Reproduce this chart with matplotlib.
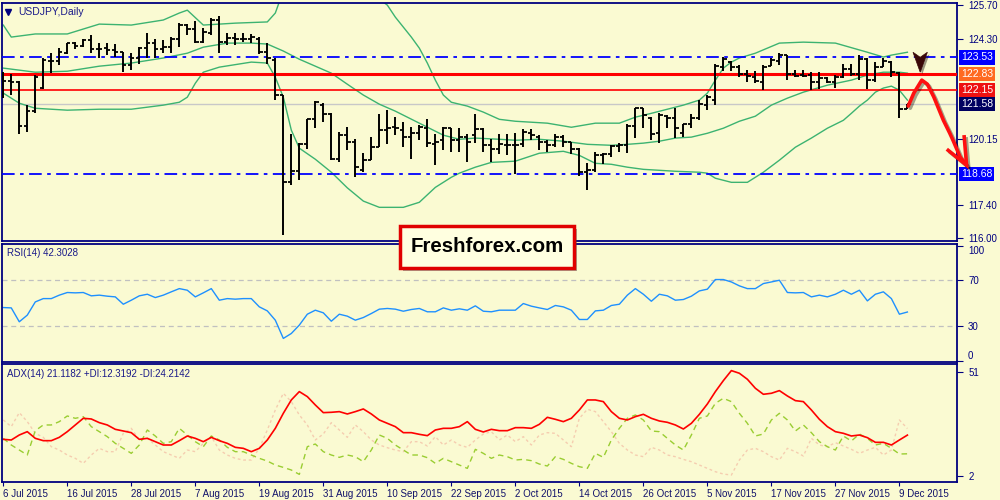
import matplotlib.pyplot as plt
import matplotlib.transforms as mtransforms
import matplotlib.patheffects as pe
from matplotlib.patches import Rectangle, Polygon

bg = '#FAFAD2'
navy = '#000080'
plt.rcParams['font.family'] = ['Liberation Sans', 'DejaVu Sans']

# USDJPY daily bars, 6 Jul 2015 .. 10 Dec 2015 (one per business day)
opens = [122.58, 122.54, 122.51, 120.66, 121.29, 122.27, 123.38, 123.38, 123.72, 124.11,
         124.01, 124.24, 123.86, 123.90, 123.83, 123.76, 123.20, 123.52, 123.90, 124.13,
         123.86, 123.97, 124.31, 124.87, 124.69, 124.18, 124.55, 125.08, 124.18, 124.34,
         124.27, 124.31, 124.31, 123.76, 123.41, 121.98, 118.35, 118.80, 119.91, 120.98,
         121.54, 121.19, 119.32, 120.29, 120.01, 118.83, 119.25, 119.80, 120.50, 120.64,
         120.50, 120.22, 120.40, 120.57, 119.94, 120.08, 120.57, 120.11, 120.22, 120.29,
         120.53, 119.87, 119.71, 119.87, 119.90, 119.94, 120.39, 120.22, 120.01, 119.87,
         120.22, 120.01, 119.73, 118.76, 118.83, 119.46, 119.52, 119.85, 119.90, 120.66,
         121.44, 121.02, 120.39, 121.08, 121.02, 120.39, 120.75, 121.02, 121.54, 121.77,
         123.13, 123.34, 123.13, 122.83, 122.72, 122.51, 123.16, 123.38, 123.62, 122.83,
         122.79, 122.79, 122.51, 122.65, 122.51, 122.72, 123.06, 122.83, 123.44, 122.58,
         123.13, 123.34, 122.88, 121.40]
highs = [122.93, 122.83, 122.54, 121.54, 122.79, 123.48, 123.72, 123.90, 124.13, 124.18,
         124.31, 124.45, 124.11, 124.13, 124.08, 123.76, 123.72, 123.97, 124.52, 124.31,
         124.24, 124.36, 124.94, 124.91, 125.05, 124.73, 125.15, 125.24, 124.55, 124.52,
         124.52, 124.49, 124.38, 124.11, 123.48, 121.98, 120.36, 119.97, 120.98, 121.72,
         121.61, 121.22, 120.43, 120.64, 120.15, 119.55, 120.22, 121.19, 121.33, 121.05,
         120.84, 120.64, 120.71, 120.98, 120.36, 120.64, 120.57, 120.57, 120.36, 121.19,
         120.57, 120.15, 120.36, 120.32, 120.39, 120.53, 120.53, 120.29, 120.08, 120.36,
         120.29, 120.01, 119.76, 119.14, 119.59, 119.55, 119.87, 119.97, 120.75, 121.44,
         121.44, 121.05, 121.22, 121.12, 121.44, 120.77, 121.19, 121.75, 121.95, 123.25,
         123.55, 123.38, 123.20, 122.99, 122.96, 123.20, 123.48, 123.72, 123.62, 122.99,
         122.99, 122.93, 122.93, 122.69, 122.79, 123.27, 123.27, 123.62, 123.52, 123.34,
         123.48, 123.38, 122.93, 121.60]
lows = [121.82, 121.98, 120.36, 120.43, 121.22, 122.23, 122.86, 123.20, 123.66, 123.86,
        123.97, 123.69, 123.48, 123.62, 123.55, 122.93, 123.02, 123.27, 123.48, 123.48,
        123.72, 123.72, 123.97, 124.45, 124.11, 124.11, 124.45, 123.72, 124.04, 124.04,
        124.18, 124.11, 123.66, 123.27, 121.77, 116.12, 118.21, 118.41, 119.73, 120.61,
        120.84, 119.25, 119.18, 119.66, 118.55, 118.76, 119.25, 119.80, 119.94, 120.29,
        119.80, 119.32, 120.08, 119.80, 119.04, 119.66, 119.59, 119.59, 119.18, 119.97,
        119.59, 119.18, 119.50, 119.46, 118.66, 119.80, 120.08, 119.66, 119.59, 119.80,
        119.80, 119.52, 118.58, 118.00, 118.76, 119.08, 119.39, 119.59, 119.55, 120.19,
        120.57, 120.11, 119.97, 120.57, 120.19, 120.22, 120.57, 120.94, 121.33, 121.54,
        122.97, 122.97, 122.69, 122.51, 122.44, 122.19, 123.16, 123.20, 122.58, 122.69,
        122.72, 122.19, 122.23, 122.44, 122.27, 122.65, 122.75, 122.58, 122.23, 122.51,
        123.13, 122.69, 121.02, 121.38]
closes = [122.54, 122.51, 120.66, 121.29, 122.69, 123.41, 123.37, 123.76, 124.11, 123.99,
          124.24, 123.86, 123.88, 123.83, 123.73, 123.20, 123.52, 123.90, 124.13, 123.86,
          123.97, 124.31, 124.87, 124.69, 124.18, 124.59, 125.08, 124.18, 124.34, 124.27,
          124.31, 124.36, 123.76, 123.48, 121.98, 118.35, 118.80, 119.91, 120.98, 121.68,
          121.19, 119.32, 120.29, 120.01, 118.97, 119.25, 119.80, 120.50, 120.57, 120.57,
          120.22, 120.40, 120.64, 119.97, 120.01, 120.57, 120.11, 120.22, 120.01, 120.53,
          119.87, 119.71, 119.91, 119.90, 119.87, 120.43, 120.29, 120.01, 119.87, 120.22,
          120.01, 119.73, 118.76, 118.83, 119.46, 119.52, 119.85, 119.90, 120.66, 121.44,
          121.12, 120.36, 121.12, 121.02, 120.61, 120.75, 121.02, 121.57, 121.86, 123.16,
          123.44, 123.13, 122.83, 122.74, 122.55, 123.13, 123.41, 123.62, 122.83, 122.74,
          122.77, 122.51, 122.65, 122.51, 122.69, 123.06, 122.83, 123.44, 122.58, 123.13,
          123.38, 122.93, 121.40, 121.58]

# Bollinger bands (20, 2) at selected bars
upper_idx = [0, 1, 4, 8, 12, 16, 20, 22, 23, 25, 29, 33, 34, 35, 37, 40, 43, 45, 47, 48,
             49, 51, 52, 53, 54, 55, 56, 58, 60, 62, 64, 68, 71, 74, 77, 79, 81, 83, 85, 87,
             88, 89, 90, 91, 92, 94, 97, 100, 104, 108, 110, 111, 113]
upper = [124.87, 124.37, 124.50, 124.50, 124.91, 124.87, 125.08, 125.37, 125.49, 124.87,
         124.95, 125.00, 125.37, 126.3, 126.9, 127.2, 127.0, 126.6, 125.95, 125.70,
         125.20, 124.37, 123.91, 123.29, 122.58, 121.96, 121.66, 121.50, 121.25, 120.95,
         120.87, 120.79, 120.62, 120.79, 120.79, 121.04, 121.20, 121.37, 121.54, 121.75,
         122.04, 122.58, 123.08, 123.33, 123.50, 123.70, 124.12, 124.16, 124.12, 123.74,
         123.54, 123.62, 123.74]
mid_idx = [0, 4, 8, 12, 16, 20, 23, 25, 28, 31, 33, 35, 37, 39, 41, 43, 45, 47, 49, 52,
           55, 57, 59, 62, 64, 67, 70, 73, 76, 78, 80, 82, 84, 86, 88, 90, 92, 94, 96, 98,
           100, 103, 106, 108, 110, 112, 113]
mid = [123.08, 122.91, 122.95, 123.16, 123.29, 123.50, 123.70, 123.95, 124.12, 124.12,
       124.08, 123.79, 123.45, 123.16, 122.87, 122.41, 121.96, 121.58, 121.29, 120.79,
       120.29, 120.12, 120.17, 120.12, 120.08, 120.12, 120.04, 119.91, 119.87, 119.91,
       119.96, 120.04, 120.17, 120.21, 120.37, 120.58, 120.87, 121.08, 121.54, 121.83,
       122.08, 122.37, 122.58, 122.79, 122.91, 122.91, 122.87]
lower_idx = [0, 2, 4, 8, 12, 16, 20, 22, 23, 24, 25, 27, 31, 33, 34, 35, 36, 37, 39, 41,
             43, 45, 47, 50, 52, 54, 56, 57, 59, 61, 64, 67, 70, 72, 74, 76, 78, 80, 84, 87,
             88, 89, 91, 93, 95, 97, 99, 101, 103, 105, 106, 107, 108, 109, 110, 111, 112, 113]
lower = [122.04, 121.62, 121.41, 121.33, 121.37, 121.37, 121.54, 121.66, 121.87, 122.45,
         122.91, 123.12, 123.33, 123.29, 122.70, 121.87, 120.50, 119.75, 119.29, 118.75,
         118.10, 117.55, 117.29, 117.29, 117.50, 118.12, 118.54, 118.71, 118.96, 119.16,
         119.21, 119.54, 119.62, 119.45, 119.12, 119.08, 118.96, 118.87, 118.79, 118.75,
         118.71, 118.50, 118.33, 118.33, 118.75, 119.25, 119.79, 120.17, 120.58, 120.91,
         121.20, 121.50, 121.75, 122.08, 122.25, 122.33, 122.16, 121.75]

rsi = [46.2, 45.9, 33.8, 39.6, 51.1, 54.0, 54.0, 57.0, 59.3, 59.0, 59.3, 56.4, 57.0, 56.1, 55.5,
       49.1, 52.6, 56.4, 57.8, 54.9, 57.0, 59.9, 62.7, 61.3, 55.5, 59.0, 62.7, 52.6, 54.0, 53.5,
       54.0, 54.0, 46.8, 43.3, 35.2, 19.3, 23.6, 30.9, 40.4, 43.9, 41.6, 34.3, 40.4, 38.7, 35.2,
       37.5, 41.0, 44.8, 45.4, 44.8, 43.0, 44.5, 45.4, 42.5, 42.5, 45.9, 43.9, 45.1, 43.9, 47.7,
       43.0, 42.5, 43.9, 43.9, 43.9, 49.7, 47.4, 45.9, 44.5, 48.0, 46.8, 43.9, 35.8, 35.8, 43.3,
       43.9, 48.0, 49.1, 57.0, 62.7, 57.8, 51.7, 57.8, 56.4, 52.6, 53.2, 56.1, 60.7, 62.2, 70.6,
       70.6, 68.5, 65.1, 62.7, 62.7, 67.1, 68.5, 70.0, 59.3, 59.0, 59.3, 55.5, 57.0, 55.5, 57.8,
       61.3, 57.8, 61.3, 52.0, 57.8, 59.9, 54.0, 40.4, 42.3]

adx = [19.13, 18.82, 21.17, 22.74, 19.60, 18.50, 18.50, 20.07, 22.74, 25.89,
       29.03, 28.71, 26.99, 25.89, 23.84, 23.06, 22.27, 19.13, 19.60, 18.03,
       16.46, 16.46, 18.50, 20.70, 19.60, 18.03, 20.07, 18.50, 17.24, 15.36,
       14.89, 13.32, 14.89, 18.82, 24.31, 31.38, 37.67, 41.60, 39.24, 35.31,
       31.70, 31.86, 32.17, 31.07, 32.17, 33.43, 31.07, 28.24, 26.67, 25.10,
       22.27, 22.27, 21.49, 20.86, 23.53, 24.31, 24.31, 25.10, 27.46, 23.84,
       22.59, 23.84, 23.21,
       23.21, 24.63, 24.63, 24.31, 26.20, 29.50, 28.56, 27.46, 29.03, 32.95,
       37.67, 37.67, 36.88, 32.17, 29.03, 28.24, 29.81, 30.91, 29.03, 27.77,
       27.14, 25.89, 24.00, 26.67, 30.91, 35.78, 41.60, 46.78, 51.49, 50.24,
       47.41, 43.17, 40.34, 40.81, 42.07, 39.55, 37.35, 36.88, 32.95, 28.56,
       25.10, 22.74, 21.96, 20.70, 21.17, 19.92, 17.72, 17.72, 16.46, 18.82,
       21.12]
plus_di = [19.60, 16.46, 14.10, 11.75, 23.21, 25.89, 25.89, 27.46, 30.13, 29.03,
           29.81, 25.10, 22.74, 20.39, 17.24, 14.89, 12.53, 16.46, 23.53, 20.70,
           17.24, 18.03, 24.31, 21.17, 18.03, 15.67, 20.70, 18.82, 15.36, 13.32,
           13.32, 11.75, 10.18, 8.92, 7.03, 5.93, 4.68, 2.63, 15.67, 16.93,
           13.32, 11.75, 10.65, 11.75, 10.96, 8.60, 14.10, 21.17, 19.60, 16.46,
           14.10, 11.75, 11.75, 10.49, 7.82, 10.18, 8.60, 7.03, 5.46, 14.42,
           12.53, 10.18, 11.75,
           10.96, 9.39, 9.70, 9.08, 7.50, 6.56, 10.96, 9.70, 7.82, 6.25,
           5.46, 12.53, 10.65, 18.82, 24.31, 29.03, 30.60, 28.24, 23.06, 22.74,
           19.60, 16.46, 14.10, 21.17, 29.03, 30.13, 36.10, 38.45, 36.88, 31.38,
           26.67, 20.70, 21.64, 28.24, 31.38, 28.24, 23.06, 25.89, 22.27, 18.03,
           15.67, 14.10, 20.70, 18.34, 21.64, 19.60, 16.46, 17.24, 14.89, 12.22,
           12.32]
minus_di = [28.24, 25.10, 31.70, 27.46, 21.96, 20.07, 15.67, 14.10, 11.75, 10.18,
            7.82, 11.75, 14.89, 13.32, 13.32, 21.96, 24.31, 18.82, 19.60, 16.46,
            13.32, 11.75, 10.18, 14.10, 13.32, 17.24, 20.39, 14.10, 11.75, 10.18,
            9.39, 9.39, 14.89, 23.53, 32.95, 40.81, 36.88, 30.60, 25.89, 18.82,
            21.64, 26.99, 23.53, 20.07, 25.89, 22.74, 18.82, 16.46, 15.20, 14.10,
            13.32, 18.03, 18.03, 15.99, 20.39, 16.46, 18.82, 16.46, 15.36, 18.82,
            21.64, 22.74, 18.82,
            21.17, 18.03, 20.39, 16.46, 21.17, 22.27, 21.96, 18.82, 15.67, 29.03,
            33.27, 32.17, 27.46, 22.74, 17.24, 14.10, 11.75, 10.96, 15.36, 14.10,
            11.75, 10.96, 9.70, 8.60, 7.03, 5.46, 3.89, 2.79, 2.32, 9.39,
            14.10, 14.89, 13.32, 10.96, 9.39, 14.89, 13.32, 11.28, 19.60, 16.46,
            15.67, 17.56, 15.99, 14.42, 12.53, 14.10, 15.36, 11.75, 14.10, 28.24,
            24.21]

date_labels = ['6 Jul 2015', '16 Jul 2015', '28 Jul 2015', '7 Aug 2015', '19 Aug 2015',
               '31 Aug 2015', '10 Sep 2015', '22 Sep 2015', '2 Oct 2015', '14 Oct 2015',
               '26 Oct 2015', '5 Nov 2015', '17 Nov 2015', '27 Nov 2015', '9 Dec 2015']
price_ticks = [125.70, 124.30, 120.15, 117.40, 116.00]
# levels marked on the chart: value, line colour, label box colour
levels = [(123.53, '#0000FF', '#0000FF'), (122.83, '#FF0000', '#FF6A20'),
          (122.15, '#FF0000', '#EE1111'), (121.58, '#C8C8C8', '#000060'),
          (118.68, '#0000FF', '#0000FF')]

n = len(closes)
x = list(range(n))

fig = plt.figure(figsize=(10, 5), dpi=100, facecolor=bg)
ax1 = fig.add_axes([0.002, 0.518, 0.955, 0.4766])
ax2 = fig.add_axes([0.002, 0.2754, 0.955, 0.2376])
ax3 = fig.add_axes([0.002, 0.0354, 0.955, 0.2366])

for ax in (ax1, ax2, ax3):
    ax.set_facecolor(bg)
    ax.set_xlim(-0.16, 119.2)
    for s in ax.spines.values():
        s.set_color(navy)
        s.set_linewidth(1.3)
    ax.yaxis.tick_right()
    ax.tick_params(axis='y', colors=navy, labelcolor=navy, labelsize=7, length=4, pad=4)
    ax.tick_params(axis='x', bottom=False, labelbottom=False)

# ---- price panel
ax1.set_ylim(115.89, 125.80)
ax1.set_yticks(price_ticks)
ax1.set_yticklabels(['%.2f' % v for v in price_ticks])

ax1.plot(upper_idx, upper, color='#3CB371', lw=1, zorder=2)
ax1.plot(mid_idx, mid, color='#3CB371', lw=1, zorder=2)
ax1.plot(lower_idx, lower, color='#3CB371', lw=1, zorder=2)

ax1.axhline(123.53, color='#0000FF', lw=1.3, ls=(0, (7, 3, 2, 3)), zorder=3)
ax1.axhline(118.68, color='#0000FF', lw=1.3, ls=(0, (7, 3, 2, 3)), zorder=3)
ax1.axhline(122.83, color='#FF0000', lw=2.2, zorder=3)
ax1.axhline(122.15, color='#FF0000', lw=1.2, zorder=3)
ax1.axhline(121.58, color='#C8C8C8', lw=1, zorder=1.5)

ax1.vlines(x, lows, highs, color='black', lw=1.4, zorder=4)
ax1.hlines(opens, [i - 0.4 for i in x], x, color='black', lw=1.3, zorder=4)
ax1.hlines(closes, x, [i + 0.4 for i in x], color='black', lw=1.3, zorder=4)

tr = mtransforms.blended_transform_factory(ax1.transAxes, ax1.transData)
for val, lc, bc in levels:
    ax1.text(1.004, val, '%.2f' % val, transform=tr, ha='left', va='center', fontsize=7.5,
             color='white', clip_on=False,
             bbox=dict(boxstyle='square,pad=0.22', fc=bc, ec='none'))

ax1.plot([0.0063], [0.963], marker='v', ms=5, color=navy, transform=ax1.transAxes, clip_on=False)
ax1.text(0.0168, 0.963, 'USDJPY,Daily', transform=ax1.transAxes, ha='left', va='center',
         fontsize=7.5, color='#1a1a8a')

# forecast arrow and the down marker
shadow = [pe.SimpleLineShadow(offset=(1.5, -1.5), shadow_color='black', alpha=0.35), pe.Normal()]
arrow_x = [113.1, 113.8, 114.8, 115.5, 116.3, 117.5, 118.3, 118.7, 119.6, 120.4]
arrow_y = [121.50, 122.04, 122.58, 122.41, 121.88, 120.91, 120.37, 120.08, 119.38, 119.04]
ax1.plot(arrow_x, arrow_y, color='#FF1010', lw=2.6, clip_on=False, zorder=6,
         solid_capstyle='round', path_effects=shadow)
ax1.plot([118.1, 120.4, 120.1], [119.66, 119.04, 120.22], color='#FF1010', lw=2.6,
         clip_on=False, zorder=6, solid_joinstyle='miter', path_effects=shadow)
tri = Polygon([(113.7, 123.74), (114.6, 123.53), (115.5, 123.74), (114.6, 122.91)],
              closed=True, fc='#3A0808', ec='#3A0808', lw=0.5, zorder=6, clip_on=False,
              path_effects=[pe.SimplePatchShadow(offset=(1.5, -1.5), alpha=0.4), pe.Normal()])
ax1.add_patch(tri)

# ---- RSI panel
ax2.set_ylim(-1.5, 102)
ax2.axhline(70, color='#C0C0C0', lw=0.9, ls=(0, (4, 3)))
ax2.axhline(30, color='#C0C0C0', lw=0.9, ls=(0, (4, 3)))
ax2.plot(x, rsi, color='#1E90FF', lw=1)
ax2.set_yticks([100, 70, 30, 0])
ax2.set_yticklabels(['100', '70', '30', '0'])
rsi_labels = ax2.get_yticklabels()
rsi_labels[0].set_va('top')
rsi_labels[3].set_va('bottom')
ax2.text(0.0052, 0.92, 'RSI(14) 42.3028', transform=ax2.transAxes, ha='left', va='center',
         fontsize=7, color='#1a1a8a')

# ---- ADX panel
ax3.set_ylim(-1.1, 54.6)
ax3.plot(x, minus_di, color='#F5CDB0', lw=1, ls=(0, (2, 2)))
ax3.plot(x, plus_di, color='#9ACD32', lw=1, ls=(0, (4, 3)))
ax3.plot(x, adx, color='#FF0000', lw=1.2)
ax3.set_yticks([51, 2])
ax3.set_yticklabels(['51', '2'])
ax3.text(0.0052, 0.915, 'ADX(14) 21.1182 +DI:12.3192 -DI:24.2142', transform=ax3.transAxes,
         ha='left', va='center', fontsize=7, color='#1a1a8a')
ax3.set_xticks(range(0, 8 * len(date_labels), 8))
ax3.set_xticklabels(date_labels)
ax3.tick_params(axis='x', bottom=True, labelbottom=True, colors=navy, labelcolor='#10106a',
                labelsize=7, length=3, pad=1.5)
for lab in ax3.get_xticklabels():
    lab.set_ha('left')

# ---- logo
fig.add_artist(Rectangle((0.403, 1 - 271 / 500), 0.174, 42 / 500, transform=fig.transFigure,
                         fc='#444444', ec='none', alpha=0.45, zorder=5))
fig.add_artist(Rectangle((0.400, 1 - 268 / 500), 0.174, 42 / 500, transform=fig.transFigure,
                         fc='#FFFFE0', ec='#E00000', lw=2.5, zorder=6))
fig.text(0.487, 1 - 247 / 500, 'Freshforex.com', ha='center', va='center', fontsize=14.8,
         fontweight='bold', color='black', zorder=7)

fig.savefig('out.png', dpi=100, facecolor=bg)
